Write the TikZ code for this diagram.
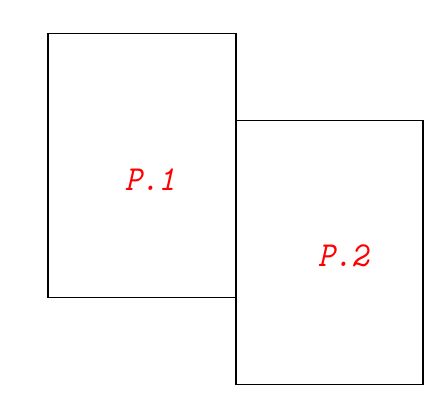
\documentclass[tikz,border=0pt]{standalone}
\usetikzlibrary{positioning}

\begin{document}
\begin{tikzpicture}[x=1bp,y=-1bp,
    pagebox/.style={rectangle, draw, line width=1.3bp, minimum height=264bp, inner sep=0pt},
    pagelabel/.style={text=red, font=\ttfamily\itshape\fontsize{32}{32}\selectfont, yscale=1.1}]
		\useasboundingbox (0,0) rectangle (446,406);
		\path (142,165.5) node[pagebox, minimum width=188bp] (p1) {}
  		(329.5,252.5) node[pagebox, minimum width=187bp] (p2) {};

		\node[pagelabel] (l1) at (150,180) {P.1};
		\node[pagelabel] (l2) at (343,256) {P.2};
	\end{tikzpicture}
\end{document}
